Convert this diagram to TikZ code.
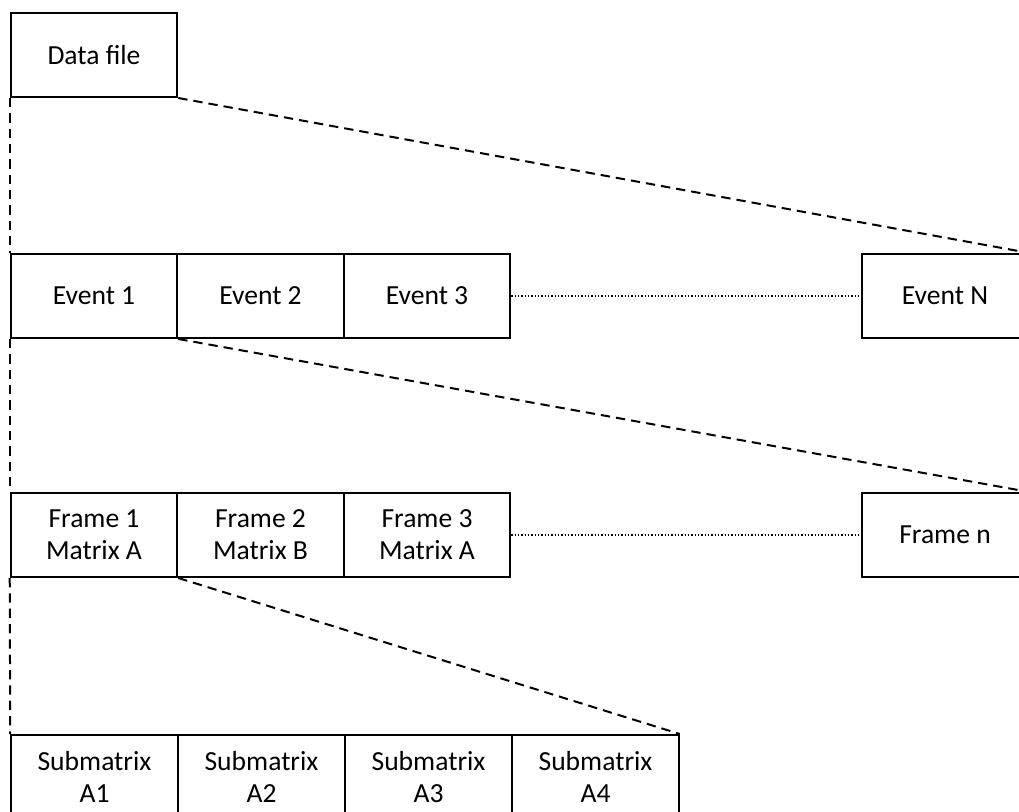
\documentclass[tikz,border=0pt]{standalone}
\usepackage{fontspec}
\setmainfont{Carlito}
\begin{document}
\begin{tikzpicture}[x=0.75pt,y=-0.75pt,
  cell/.style={draw, line width=1.5pt, minimum width=124.9pt, minimum height=63pt,
    inner sep=0pt, align=center, font=\fontsize{20.7}{24}\selectfont},
  zoomline/.style={line width=1.5pt, dash pattern=on 7pt off 4.5pt},
  gapline/.style={line width=1.1pt, dash pattern=on 1.1pt off 1.4pt}]
\useasboundingbox (0,0) rectangle (1019,812);
\clip (0,0) rectangle (1019,812);
\node[cell] (data) at (94,55) {Data file};
\node[cell] (e1) at (94,296) {Event 1};
\node[cell] (e2) at (260.5,296) {Event 2};
\node[cell] (e3) at (427,296) {Event 3};
\node[cell] (eN) at (945,296) {Event N};
\node[cell] (f1) at (94,535) {Frame 1\\Matrix A};
\node[cell] (f2) at (260.5,535) {Frame 2\\Matrix B};
\node[cell] (f3) at (427,535) {Frame 3\\Matrix A};
\node[cell] (fN) at (945,535) {Frame n};
\node[cell] (s1) at (94.5,777) {Submatrix\\A1};
\node[cell] (s2) at (261.5,777) {Submatrix\\A2};
\node[cell] (s3) at (428.5,777) {Submatrix\\A3};
\node[cell] (s4) at (595.5,777) {Submatrix\\A4};
\draw[zoomline] (data.south west) -- (e1.north west);
\draw[zoomline] (data.south east) -- (eN.north east);
\draw[zoomline] (e1.south west) -- (f1.north west);
\draw[zoomline] (e1.south east) -- (fN.north east);
\draw[zoomline] (f1.south west) -- (s1.north west);
\draw[zoomline] (f1.south east) -- (s4.north east);
\draw[gapline] (e3.east) -- (eN.west);
\draw[gapline] (f3.east) -- (fN.west);
\end{tikzpicture}
\end{document}
